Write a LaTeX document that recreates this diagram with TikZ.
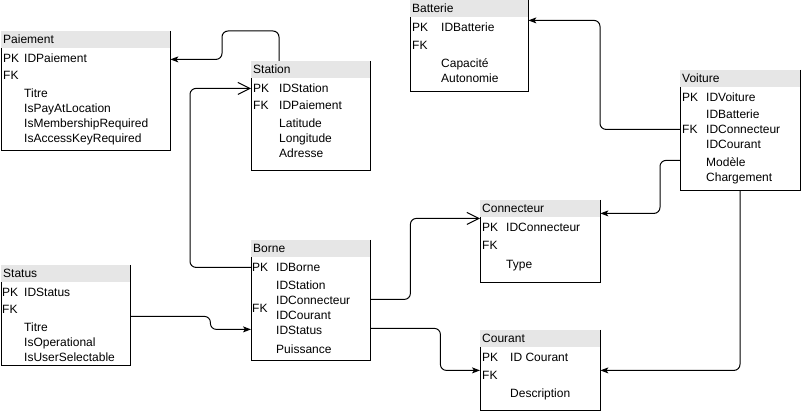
\documentclass[tikz,border=0pt]{standalone}
\usepackage{fontspec}
\setmainfont{Liberation Sans}
\usetikzlibrary{ % tikz packages
    arrows.meta,bending
}
\definecolor{hdrgray}{HTML}{E6E6E6}
\newcommand{\tblfont}{\fontsize{12}{15}\selectfont}
\tikzset{
    tblhead/.style={rectangle, fill=hdrgray, anchor=north west,
        inner xsep=2pt, inner ysep=0pt, minimum height=17pt, font=\tblfont},
    tblbody/.style={rectangle, anchor=north west, inner sep=0pt},
    tblfields/.style={anchor=north west, inner sep=0pt, font=\tblfont},
    tblline/.style={line width=1pt},
    rel/.style={draw, line width=1pt, rounded corners=6pt},
    solidref/.style={-{Stealth[length=8pt,width=6pt,inset=2pt]}},
    openref/.style={-{Straight Barb[length=12pt,width=12pt]}}
}

\begin{document}
\begin{tikzpicture}[x=1pt,y=-1pt]
    \useasboundingbox (0,0) rectangle (801,411);

    % tables
    \node[tblhead, text width=165pt] (paiement-h) at (1,31) {Paiement};
    \node[tblbody, minimum width=169pt, minimum height=102pt] (paiement) at (paiement-h.south west) {};
    \node[tblfields] (paiement-f) at ([shift={(2pt,-3.5pt)}]paiement.north west) {%
        \begin{tabular}{@{}p{21pt}@{}l@{}}
        PK & IDPaiement\\[2pt]
        FK & \\[3pt]
         & Titre\\
         & IsPayAtLocation\\
         & IsMembershipRequired\\
         & IsAccessKeyRequired
        \end{tabular}};

    \node[tblhead, text width=115pt] (station-h) at (251,61) {Station};
    \node[tblbody, minimum width=119pt, minimum height=92pt] (station) at (station-h.south west) {};
    \node[tblfields] (station-f) at ([shift={(2pt,-3.5pt)}]station.north west) {%
        \begin{tabular}{@{}p{26pt}@{}l@{}}
        PK & IDStation\\[2pt]
        FK & IDPaiement\\[3pt]
         & Latitude\\
         & Longitude\\
         & Adresse
        \end{tabular}};

    \node[tblhead, text width=114pt] (batterie-h) at (410,0) {Batterie};
    \node[tblbody, minimum width=118pt, minimum height=74pt] (batterie) at (batterie-h.south west) {};
    \node[tblfields] (batterie-f) at ([shift={(2pt,-3.5pt)}]batterie.north west) {%
        \begin{tabular}{@{}p{29pt}@{}l@{}}
        PK & IDBatterie\\[3pt]
        FK & \\[3pt]
         & Capacité\\
         & Autonomie
        \end{tabular}};

    \node[tblhead, text width=116pt] (voiture-h) at (680,70) {Voiture};
    \node[tblbody, minimum width=120pt, minimum height=103pt] (voiture) at (voiture-h.south west) {};
    \node[tblfields] (voiture-f) at ([shift={(2pt,-3.5pt)}]voiture.north west) {%
        \begin{tabular}{@{}p{24pt}@{}l@{}}
        PK & IDVoiture\\[2pt]
         & IDBatterie\\
        FK & IDConnecteur\\
         & IDCourant\\[3pt]
         & Modèle\\
         & Chargement
        \end{tabular}};

    \node[tblhead, text width=125pt] (status-h) at (1,265) {Status};
    \node[tblbody, minimum width=129pt, minimum height=83pt] (status) at (status-h.south west) {};
    \node[tblfields] (status-f) at ([shift={(1pt,-3.5pt)}]status.north west) {%
        \begin{tabular}{@{}p{22pt}@{}l@{}}
        PK & IDStatus\\[2pt]
        FK & \\[3pt]
         & Titre\\
         & IsOperational\\
         & IsUserSelectable
        \end{tabular}};

    \node[tblhead, text width=115pt] (borne-h) at (251,240) {Borne};
    \node[tblbody, minimum width=119pt, minimum height=103pt] (borne) at (borne-h.south west) {};
    \node[tblfields] (borne-f) at ([shift={(1pt,-3.5pt)}]borne.north west) {%
        \begin{tabular}{@{}p{24pt}@{}l@{}}
        PK & IDBorne\\[3pt]
         & IDStation\\
         & IDConnecteur\\
        \raisebox{7pt}[0pt][0pt]{FK} & IDCourant\\
         & IDStatus\\[4pt]
         & Puissance
        \end{tabular}};

    \node[tblhead, text width=116pt] (connecteur-h) at (480,200) {Connecteur};
    \node[tblbody, minimum width=120pt, minimum height=65pt] (connecteur) at (connecteur-h.south west) {};
    \node[tblfields] (connecteur-f) at ([shift={(2pt,-3.5pt)}]connecteur.north west) {%
        \begin{tabular}{@{}p{24pt}@{}l@{}}
        PK & IDConnecteur\\[3pt]
        FK & \\[4pt]
         & Type
        \end{tabular}};

    \node[tblhead, text width=116pt] (courant-h) at (480,330) {Courant};
    \node[tblbody, minimum width=120pt, minimum height=63pt] (courant) at (courant-h.south west) {};
    \node[tblfields] (courant-f) at ([shift={(2pt,-3.5pt)}]courant.north west) {%
        \begin{tabular}{@{}p{28pt}@{}l@{}}
        PK & ID Courant\\[3pt]
        FK & \\[3pt]
         & Description
        \end{tabular}};

    % outlines
    \foreach \t in {paiement,station,batterie,voiture,status,borne,connecteur,courant}
        \draw[tblline] (\t-h.north east) -- (\t.south east) -- (\t.south west) -- (\t.north west);

    % relations
    \draw[rel, solidref] ([xshift=28pt]station-h.north west) -- ++(0,-30) -- ++(-57,0)
        |- ([yshift=-11pt]paiement.north east);
    \draw[rel, openref] ([yshift=-10pt]borne.north west) -- ++(-61,0)
        |- ([yshift=-10pt]station.north west);
    \draw[rel, solidref] ([yshift=-34pt]status.north east) -- ++(80,0)
        |- ([yshift=-72pt]borne.north west);
    \draw[rel, openref] ([yshift=-42pt]borne.north east) -- ++(40,0)
        |- ([yshift=-1pt]connecteur.north west);
    \draw[rel, solidref] ([yshift=-71pt]borne.north east) -- ++(70,0)
        |- ([yshift=-23pt]courant.north west);
    \draw[rel, solidref] ([yshift=-42pt]voiture.north west) -- ++(-80,0)
        |- ([yshift=-3pt]batterie.north east);
    \draw[rel, solidref] ([yshift=-73pt]voiture.north west) -- ++(-20,0)
        |- ([yshift=4pt]connecteur.north east);
    \draw[rel, solidref] ([xshift=60pt]voiture.south west)
        |- ([yshift=-23pt]courant.north east);
\end{tikzpicture}
\end{document}
